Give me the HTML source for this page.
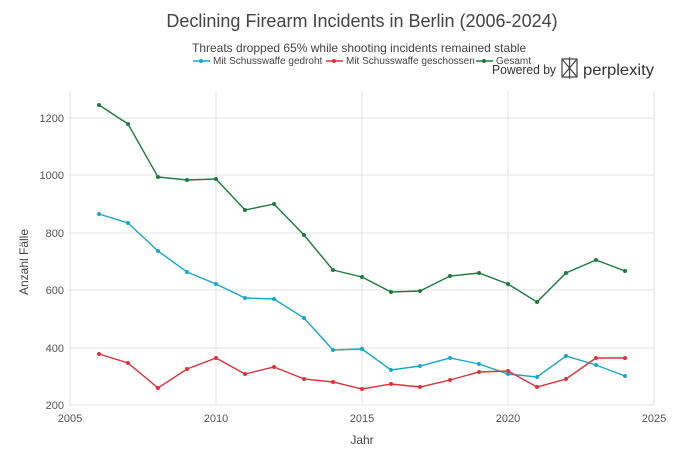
<!DOCTYPE html>
<html><head><meta charset="utf-8"><style>
body{margin:0;background:#fff;}
svg{display:block;font-family:"Liberation Sans",sans-serif;}
</style></head><body>
<svg width="690" height="459" viewBox="0 0 690 459" xmlns="http://www.w3.org/2000/svg">
<rect width="690" height="459" fill="#fff"/>
<g stroke="#e3e3e3" stroke-width="1">
<line x1="70" y1="90" x2="70" y2="405"/><line x1="216" y1="90" x2="216" y2="405"/><line x1="362" y1="90" x2="362" y2="405"/><line x1="508" y1="90" x2="508" y2="405"/><line x1="654" y1="90" x2="654" y2="405"/>
<line x1="70" y1="118" x2="654" y2="118"/><line x1="70" y1="175" x2="654" y2="175"/><line x1="70" y1="233" x2="654" y2="233"/><line x1="70" y1="290" x2="654" y2="290"/><line x1="70" y1="348" x2="654" y2="348"/><line x1="70" y1="405" x2="654" y2="405"/>
</g>
<g font-size="11" fill="#555" text-anchor="end">
<text x="64" y="122">1200</text><text x="64" y="179">1000</text><text x="64" y="237">800</text><text x="64" y="294">600</text><text x="64" y="352">400</text><text x="64" y="409">200</text>
</g>
<g font-size="11" fill="#555" text-anchor="middle">
<text x="70" y="422">2005</text><text x="216" y="422">2010</text><text x="362" y="422">2015</text><text x="508" y="422">2020</text><text x="654" y="422">2025</text>
</g>
<text x="362" y="444" font-size="12" fill="#444" text-anchor="middle">Jahr</text>
<text transform="translate(28,262) rotate(-90)" font-size="12" fill="#444" text-anchor="middle">Anzahl Fälle</text>
<text x="362" y="27" font-size="18" fill="#444" text-anchor="middle">Declining Firearm Incidents in Berlin (2006-2024)</text>
<text x="192" y="52" font-size="12" fill="#444">Threats dropped 65% while shooting incidents remained stable</text>
<g font-size="10" fill="#444">
<line x1="193" y1="61" x2="210" y2="61" stroke="#17a8c9" stroke-width="1.5"/><circle cx="201" cy="61" r="2" fill="#17a8c9"/><text x="213" y="64">Mit Schusswaffe gedroht</text>
<line x1="326" y1="61" x2="343" y2="61" stroke="#e0313a" stroke-width="1.5"/><circle cx="334" cy="61" r="2" fill="#e0313a"/><text x="346" y="64">Mit Schusswaffe geschossen</text>
<line x1="476" y1="61" x2="493" y2="61" stroke="#1e7a3e" stroke-width="1.5"/><circle cx="484" cy="61" r="2" fill="#1e7a3e"/><text x="496" y="64">Gesamt</text>
</g>
<text x="492" y="74" font-size="12.5" fill="#333" textLength="64" lengthAdjust="spacingAndGlyphs">Powered by</text>
<g stroke="#444" stroke-width="1.2" fill="none"><rect x="562" y="59" width="15" height="18"/><line x1="562" y1="59" x2="577" y2="77"/><line x1="577" y1="59" x2="562" y2="77"/><line x1="569.5" y1="57" x2="569.5" y2="79"/></g>
<text x="583" y="75" font-size="16" fill="#333" textLength="71" lengthAdjust="spacingAndGlyphs">perplexity</text>
<g fill="none" stroke-width="1.4">
<polyline stroke="#1e7a3e" points="99,105 128,124 158,177 187,180 216,179 245,210 274,204 304,235 333,270 362,277 391,292 420,291 450,276 479,273 508,284 537,302 566,273 596,260 625,271"/>
<polyline stroke="#17a8c9" points="99,214 128,223 158,251 187,272 216,284 245,298 274,299 304,318 333,350 362,349 391,370 420,366 450,358 479,364 508,374 537,377 566,356 596,365 625,376"/>
<polyline stroke="#e0313a" points="99,354 128,363 158,388 187,369 216,358 245,374 274,367 304,379 333,382 362,389 391,384 420,387 450,380 479,372 508,371 537,387 566,379 596,358 625,358"/>
</g>
<g fill="#1e7a3e"><circle cx="99" cy="105" r="2"/><circle cx="128" cy="124" r="2"/><circle cx="158" cy="177" r="2"/><circle cx="187" cy="180" r="2"/><circle cx="216" cy="179" r="2"/><circle cx="245" cy="210" r="2"/><circle cx="274" cy="204" r="2"/><circle cx="304" cy="235" r="2"/><circle cx="333" cy="270" r="2"/><circle cx="362" cy="277" r="2"/><circle cx="391" cy="292" r="2"/><circle cx="420" cy="291" r="2"/><circle cx="450" cy="276" r="2"/><circle cx="479" cy="273" r="2"/><circle cx="508" cy="284" r="2"/><circle cx="537" cy="302" r="2"/><circle cx="566" cy="273" r="2"/><circle cx="596" cy="260" r="2"/><circle cx="625" cy="271" r="2"/></g>
<g fill="#17a8c9"><circle cx="99" cy="214" r="2"/><circle cx="128" cy="223" r="2"/><circle cx="158" cy="251" r="2"/><circle cx="187" cy="272" r="2"/><circle cx="216" cy="284" r="2"/><circle cx="245" cy="298" r="2"/><circle cx="274" cy="299" r="2"/><circle cx="304" cy="318" r="2"/><circle cx="333" cy="350" r="2"/><circle cx="362" cy="349" r="2"/><circle cx="391" cy="370" r="2"/><circle cx="420" cy="366" r="2"/><circle cx="450" cy="358" r="2"/><circle cx="479" cy="364" r="2"/><circle cx="508" cy="374" r="2"/><circle cx="537" cy="377" r="2"/><circle cx="566" cy="356" r="2"/><circle cx="596" cy="365" r="2"/><circle cx="625" cy="376" r="2"/></g>
<g fill="#e0313a"><circle cx="99" cy="354" r="2"/><circle cx="128" cy="363" r="2"/><circle cx="158" cy="388" r="2"/><circle cx="187" cy="369" r="2"/><circle cx="216" cy="358" r="2"/><circle cx="245" cy="374" r="2"/><circle cx="274" cy="367" r="2"/><circle cx="304" cy="379" r="2"/><circle cx="333" cy="382" r="2"/><circle cx="362" cy="389" r="2"/><circle cx="391" cy="384" r="2"/><circle cx="420" cy="387" r="2"/><circle cx="450" cy="380" r="2"/><circle cx="479" cy="372" r="2"/><circle cx="508" cy="371" r="2"/><circle cx="537" cy="387" r="2"/><circle cx="566" cy="379" r="2"/><circle cx="596" cy="358" r="2"/><circle cx="625" cy="358" r="2"/></g>
</svg>
</body></html>
